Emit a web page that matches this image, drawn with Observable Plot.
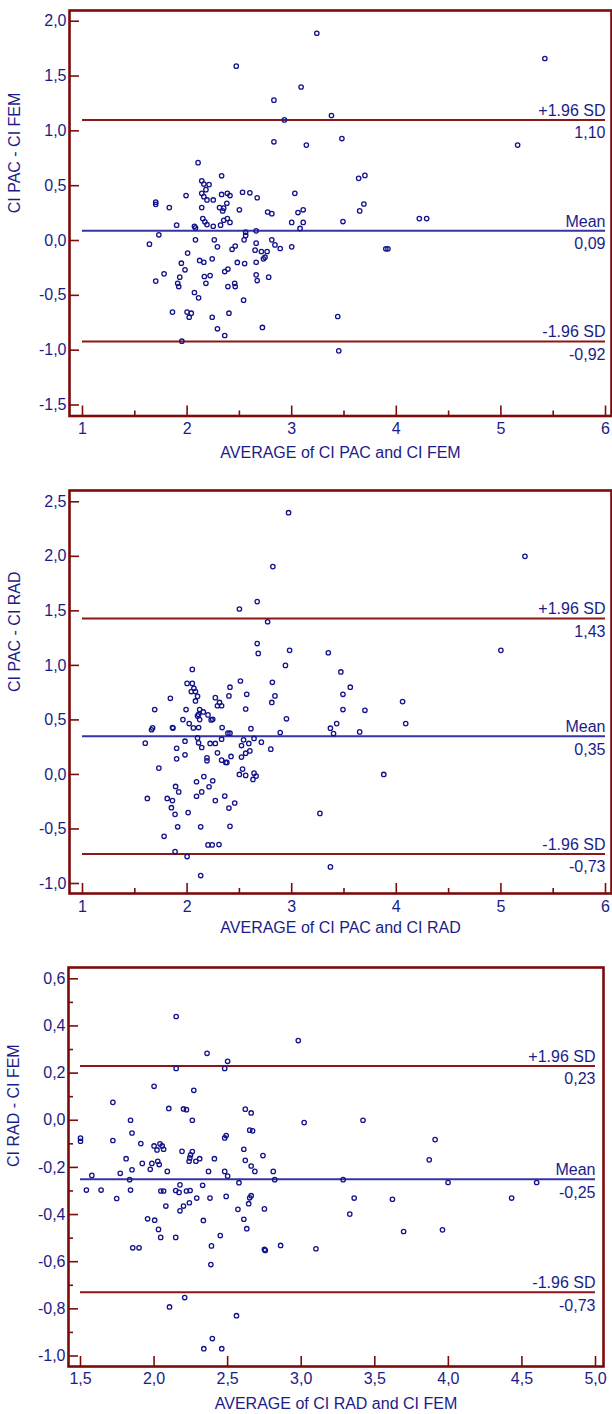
<!DOCTYPE html>
<html><head><meta charset="utf-8">
<script src="https://cdn.jsdelivr.net/npm/d3@7"></script>
<script src="https://cdn.jsdelivr.net/npm/@observablehq/plot@0.6"></script>
<style>
body{margin:0;background:#fff;width:612px;}
#chart svg{display:block;}
</style></head><body><div id="chart"></div>
<script>
// ---------- DATA ----------
// Panel 1: CI PAC - CI FEM vs average
const p1Points = [
[2.47,1.59],[3.09,1.40],[2.83,1.28],[2.93,1.10],[2.83,0.90],[3.14,0.87],[2.105,0.71],[2.14,0.545],[2.16,0.515],[2.21,0.51],
[2.18,0.464],[2.33,0.59],[2.14,0.43],[2.16,0.40],[2.19,0.37],[2.25,0.37],[2.14,0.30],[1.99,0.41],[1.83,0.30],[1.70,0.35],
[1.70,0.33],[1.90,0.14],[2.07,0.13],[2.08,0.115],[2.15,0.20],[2.17,0.17],[2.19,0.145],[2.25,0.13],[2.32,0.14],[2.35,0.185],
[2.385,0.20],[2.41,0.165],[2.33,0.42],[2.385,0.43],[2.41,0.41],[2.38,0.34],[2.31,0.30],[2.35,0.295],[2.34,0.27],[2.50,0.28],
[2.53,0.44],[2.60,0.435],[2.67,0.39],[2.77,0.26],[2.81,0.245],[3.03,0.43],[3.06,0.255],[3.11,0.28],[3.0,0.165],[3.11,0.165],[3.08,0.11],
[2.66,0.088],[2.56,0.076],[2.56,0.046],[2.545,0.006],[1.73,0.052],[1.64,-0.033],[2.08,0.006],[2.26,0.006],[2.29,-0.058],[2.005,-0.115],
[2.43,-0.08],[2.46,-0.05],[2.66,-0.024],[2.65,-0.088],[2.71,-0.10],[2.765,-0.10],[2.81,0.006],[2.84,-0.04],[2.89,-0.073],[3.0,-0.058],
[2.745,-0.152],[2.73,-0.167],[2.66,-0.198],[2.55,-0.21],[2.48,-0.20],[2.24,-0.167],[2.12,-0.182],[2.16,-0.198],[1.945,-0.207],[1.98,-0.267],
[1.78,-0.304],[1.70,-0.37],[1.93,-0.334],[1.91,-0.39],[1.92,-0.42],[2.165,-0.328],[2.22,-0.32],[2.18,-0.39],[2.36,-0.283],[2.39,-0.26],
[2.455,-0.39],[2.46,-0.42],[2.39,-0.42],[2.66,-0.313],[2.67,-0.365],[2.78,-0.334],[2.07,-0.474],[2.11,-0.523],[2.54,-0.544],[1.86,-0.653],
[2.0,-0.653],[2.04,-0.663],[2.02,-0.70],[2.24,-0.70],[2.40,-0.663],[2.29,-0.805],[2.36,-0.866],[2.72,-0.793],[3.44,-0.693],[1.95,-0.918],
[3.45,-1.006],[3.90,-0.076],[3.92,-0.076],
[3.24,1.89],[5.42,1.66],[3.38,1.14],[3.48,0.93],[5.16,0.87],[3.64,0.567],[3.70,0.594],[3.69,0.333],[3.65,0.27],[3.49,0.173],[4.22,0.2],[4.29,0.2]
];
const p1Lines = {mean: 0.09, upper: 1.10, lower: -0.92};

// Panel 2: CI PAC - CI RAD vs average
const p2Points = [
[2.97,2.40],[2.82,1.906],[2.67,1.585],[2.50,1.517],[2.77,1.40],[2.67,1.20],[2.68,1.11],[2.98,1.138],[2.94,1.0],[2.05,0.963],
[5.23,2.0],[3.35,1.116],[3.47,0.94],[5.0,1.138],
[2.51,0.857],[2.815,0.845],[2.0,0.835],[2.05,0.835],[2.065,0.79],[2.08,0.76],[2.04,0.76],[2.10,0.716],[2.08,0.674],[1.84,0.698],
[2.41,0.80],[2.27,0.704],[2.40,0.72],[2.57,0.735],[2.84,0.72],[2.81,0.66],[2.31,0.66],[2.29,0.63],[2.33,0.63],[2.56,0.60],
[1.69,0.595],[1.99,0.595],[2.12,0.595],[2.155,0.573],[2.11,0.55],[2.10,0.537],[2.20,0.546],[2.23,0.50],[2.245,0.505],[2.12,0.503],
[1.96,0.503],[2.02,0.466],[2.06,0.427],[2.11,0.43],[1.86,0.43],[1.865,0.425],[1.66,0.41],[1.67,0.427],[2.335,0.43],[2.61,0.42],
[2.95,0.51],[2.89,0.384],[2.39,0.378],[2.41,0.378],[2.10,0.335],[1.60,0.287],[1.98,0.305],[2.11,0.29],[2.22,0.284],[2.27,0.284],
[2.33,0.323],[2.54,0.317],[2.59,0.284],[2.64,0.33],[2.71,0.296],[2.52,0.265],[2.56,0.195],[2.60,0.216],[2.80,0.232],[1.90,0.24],
[2.14,0.247],[2.29,0.198],[1.98,0.18],[1.90,0.143],[2.19,0.152],[2.19,0.125],[2.33,0.131],[2.37,0.11],[2.38,0.11],[2.42,0.165],
[2.52,0.159],[1.73,0.058],[2.53,0.049],[2.50,0.0],[2.56,-0.009],[2.64,0.012],[2.66,-0.015],[2.63,-0.046],[2.16,-0.02],[2.09,-0.067],
[2.245,-0.058],[2.21,-0.113],[1.89,-0.11],[1.92,-0.16],[2.14,-0.16],[2.09,-0.20],[1.62,-0.22],[1.81,-0.22],[1.86,-0.24],[2.36,-0.198],
[2.27,-0.24],[2.455,-0.262],[2.40,-0.308],[1.85,-0.305],[1.885,-0.366],[2.01,-0.35],[1.91,-0.48],[2.13,-0.48],[2.41,-0.476],[1.78,-0.567],
[2.20,-0.646],[2.24,-0.646],[2.305,-0.643],[1.885,-0.707],[2.0,-0.753],[2.13,-0.927],[3.37,-0.848],[3.27,-0.357],[3.88,0.0],[3.37,0.424],
[3.40,0.375],[3.43,0.466],[3.49,0.735],[3.49,0.595],[3.56,0.80],[3.70,0.588],[3.65,0.39],[4.06,0.668],[4.09,0.466]
];
const p2Lines = {mean: 0.35, upper: 1.43, lower: -0.73};

// Panel 3: CI RAD - CI FEM vs average
const p3Points = [
[2.15,0.44],[2.15,0.22],[2.36,0.284],[2.50,0.25],[2.48,0.22],[2.98,0.338],[3.02,-0.01],[2.00,0.144],[2.27,0.127],[1.72,0.076],
[2.10,0.05],[2.20,0.048],[2.22,0.045],[2.26,0.0],[1.84,0.0],[1.85,-0.054],[2.62,0.047],[2.66,0.031],[2.65,-0.042],[2.67,-0.045],
[2.49,-0.065],[2.48,-0.075],[1.50,-0.076],[1.50,-0.089],[1.72,-0.086],[1.91,-0.099],[2.00,-0.109],[2.02,-0.126],[2.04,-0.10],[2.055,-0.109],
[2.065,-0.123],[2.19,-0.132],[2.26,-0.133],[2.248,-0.147],[2.243,-0.16],[2.238,-0.174],[2.31,-0.163],[2.284,-0.174],[2.41,-0.163],[2.61,-0.123],
[2.62,-0.17],[2.66,-0.194],[2.74,-0.15],[1.81,-0.163],[1.92,-0.183],[1.985,-0.183],[2.025,-0.174],[2.035,-0.188],[1.85,-0.21],[1.974,-0.208],
[3.42,0.0],[3.91,-0.082],[3.87,-0.168],
[1.77,-0.225],[2.09,-0.217],[2.37,-0.217],[2.48,-0.217],[2.50,-0.237],[2.685,-0.217],[2.81,-0.217],[1.577,-0.234],[1.834,-0.252],[2.82,-0.252],
[3.285,-0.252],[3.998,-0.264],[4.60,-0.264],[1.54,-0.296],[1.64,-0.296],[1.84,-0.296],[2.046,-0.30],[2.065,-0.30],[2.147,-0.298],[2.17,-0.306],
[2.22,-0.30],[2.245,-0.298],[2.176,-0.274],[2.33,-0.276],[2.577,-0.265],[1.746,-0.332],[2.29,-0.33],[2.38,-0.33],[2.49,-0.323],[2.65,-0.329],
[2.66,-0.32],[2.24,-0.35],[2.20,-0.364],[2.08,-0.364],[2.643,-0.354],[2.176,-0.384],[2.57,-0.378],[2.75,-0.376],[1.956,-0.418],[2.004,-0.424],
[2.03,-0.463],[2.045,-0.497],[2.147,-0.497],[2.335,-0.425],[2.61,-0.42],[2.63,-0.46],[2.45,-0.489],[1.855,-0.541],[1.898,-0.541],[2.39,-0.533],
[2.386,-0.612],[2.75,-0.548],[2.756,-0.552],[2.86,-0.531],[3.10,-0.545],[3.33,-0.398],[3.36,-0.33],[3.62,-0.335],[3.696,-0.472],[3.96,-0.465],
[4.43,-0.33],[2.208,-0.752],[2.105,-0.792],[2.56,-0.829],[2.396,-0.926],[2.338,-0.969],[2.46,-0.969]
];
const p3Lines = {mean: -0.25, upper: 0.23, lower: -0.73};

// Axis ticks and labels
const p1XTicks = [1, 2, 3, 4, 5, 6];
const p1XMinor = [1.5, 2.5, 3.5, 4.5, 5.5];
const p1YTicks = [-1.5, -1.0, -0.5, 0.0, 0.5, 1.0, 1.5, 2.0];
const p2XTicks = [1, 2, 3, 4, 5, 6];
const p2XMinor = [1.5, 2.5, 3.5, 4.5, 5.5];
const p2YTicks = [-1.0, -0.5, 0.0, 0.5, 1.0, 1.5, 2.0, 2.5];
const p3XTicks = [1.5, 2.0, 2.5, 3.0, 3.5, 4.0, 4.5, 5.0];
const p3YTicks = [-1.0, -0.8, -0.6, -0.4, -0.2, 0.0, 0.2, 0.4, 0.6];
const p3YMinor = [-0.9, -0.7, -0.5, -0.3, -0.1, 0.1, 0.3, 0.5];

const xTitles = ["AVERAGE of CI PAC and CI FEM", "AVERAGE of CI PAC and CI RAD", "AVERAGE of CI RAD and CI FEM"];
const yTitles = ["CI PAC - CI FEM", "CI PAC - CI RAD", "CI RAD - CI FEM"];
const lineNames = {upper: "+1.96 SD", mean: "Mean", lower: "-1.96 SD"};

// ---------- STYLE ----------
const TEXT = "#1c1c88";
const DOT = "#13138c";
const MEAN = "#3434a6";
const LIMIT = "#8c1717";
const FRAME = "#7c0b0b";
const FONT = "'Liberation Sans', Arial, sans-serif";
const FS = 16;
const comma1 = d => d.toFixed(1).replace(".", ",");
const comma2 = d => d.toFixed(2).replace(".", ",");

const panels = [
  {pts: p1Points, lines: p1Lines, xT: p1XTicks, xM: p1XMinor, yT: p1YTicks, yM: [], xFmt: d => String(d),
   height: 480, mt: 10, mb: 64.5, ml: 69, mr: 1, iL: 13, iR: 6, iT: 10.7, iB: 11, labPad: 7, titleDy: 42},
  {pts: p2Points, lines: p2Lines, xT: p2XTicks, xM: p2XMinor, yT: p2YTicks, yM: [], xFmt: d => String(d),
   height: 477, mt: 10, mb: 64, ml: 69, mr: 1, iL: 13, iR: 6, iT: 11.3, iB: 10, labPad: 7, titleDy: 39},
  {pts: p3Points, lines: p3Lines, xT: p3XTicks, xM: [], yT: p3YTicks, yM: p3YMinor, xFmt: comma1,
   height: 457, mt: 10, mb: 48, ml: 68, mr: 9, iL: 12, iR: 8, iT: 11.3, iB: 10.5, labPad: 6, titleDy: 42}
];

const W = 612;
const root = document.getElementById("chart");

panels.forEach((p, i) => {
  const plotW = W - p.ml - p.mr;
  const plotH = p.height - p.mt - p.mb;
  const xdom = [p.xT[0], p.xT[p.xT.length - 1]];
  const ydom = [p.yT[0], p.yT[p.yT.length - 1]];
  const data = p.pts.map(([x, y]) => ({x, y}));
  const lineRows = ["upper", "mean", "lower"].map(k => ({k, v: p.lines[k]}));
  const svg = Plot.plot({
    width: W, height: p.height,
    marginTop: p.mt, marginBottom: p.mb, marginLeft: p.ml, marginRight: p.mr,
    x: {domain: xdom, insetLeft: p.iL, insetRight: p.iR},
    y: {domain: ydom, insetTop: p.iT, insetBottom: p.iB},
    style: {fontFamily: FONT, color: TEXT, background: "white", overflow: "visible"},
    marks: [
      Plot.ruleY(lineRows, {y: "v", x1: () => xdom[0], x2: () => xdom[1],
        stroke: d => d.k === "mean" ? MEAN : LIMIT, strokeWidth: 2}),
      Plot.text(lineRows, {x: () => xdom[1], y: "v", text: d => lineNames[d.k], textAnchor: "end",
        lineAnchor: "bottom", dy: -4, fontSize: FS, fill: TEXT, letterSpacing: "-0.3px"}),
      Plot.text(lineRows, {x: () => xdom[1], y: "v", text: d => comma2(d.v), textAnchor: "end",
        lineAnchor: "top", dy: 7, fontSize: FS, fill: TEXT}),
      Plot.dot(data, {x: "x", y: "y", r: 2.2, stroke: DOT, strokeWidth: 1.3, fill: "none"}),
      Plot.tickY(p.yT, {y: d => d, stroke: FRAME, strokeWidth: 1.6, insetRight: plotW - 10}),
      Plot.tickY(p.yM, {y: d => d, stroke: FRAME, strokeWidth: 1.6, insetRight: plotW - 5}),
      Plot.tickX(p.xT, {x: d => d, stroke: FRAME, strokeWidth: 1.6, insetTop: plotH - 10}),
      Plot.tickX(p.xM, {x: d => d, stroke: FRAME, strokeWidth: 1.6, insetTop: plotH - 5}),
      Plot.axisY(p.yT, {tickSize: 0, tickPadding: 3, tickFormat: comma1, fontSize: FS, fill: TEXT, label: null}),
      Plot.axisX(p.xT, {tickSize: 0, tickPadding: p.labPad, tickFormat: p.xFmt, fontSize: FS, fill: TEXT, label: null}),
      Plot.text([xTitles[i]], {frameAnchor: "bottom", dy: p.titleDy, fontSize: FS, fill: TEXT, letterSpacing: "-0.4px"}),
      Plot.text([yTitles[i]], {frameAnchor: "left", dx: -55, rotate: -90, fontSize: FS, fill: TEXT, letterSpacing: "-0.3px"}),
      Plot.frame({stroke: FRAME, strokeWidth: 2.6})
    ]
  });
  root.appendChild(svg);
});
</script>
</body></html>
